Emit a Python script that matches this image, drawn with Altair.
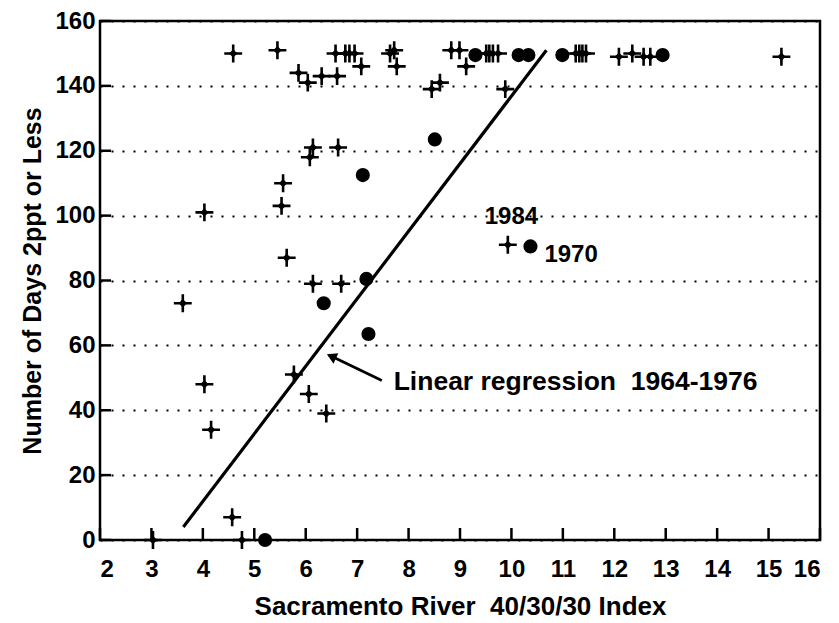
import altair as alt
import pandas as pd

# ---- data ----
cross_x = [3.03, 3.61, 4.03, 4.03, 4.16, 4.57, 4.59, 4.76, 5.45, 5.53, 5.56, 5.63, 5.77,
           5.86, 6.04, 6.06, 6.08, 6.14, 6.14, 6.31, 6.40, 6.58, 6.61, 6.63, 6.69, 6.77,
           6.85, 6.95, 7.08, 7.64, 7.72, 7.77, 8.45, 8.61, 8.83, 8.99, 9.12, 9.51, 9.57,
           9.64, 9.74, 9.88, 9.93, 11.25, 11.32, 11.38, 11.45, 12.09, 12.35, 12.57, 12.70,
           15.25]
cross_y = [0, 73, 101, 48, 34, 7, 150, 0, 151, 103, 110, 87, 51,
           144, 141, 45, 118, 121, 79, 143, 39, 150, 143, 121, 79, 150,
           150, 150, 146, 150, 151, 146, 139, 141, 151, 151, 146, 150, 150,
           150, 150, 139, 91, 150, 150, 150, 150, 149, 150, 149, 149,
           149]

dot_x = [5.21, 6.35, 7.18, 7.22, 7.11, 8.51, 9.30, 10.14, 10.33, 10.37, 10.99, 12.94]
dot_y = [0, 73, 80.5, 63.5, 112.5, 123.5, 149.5, 149.5, 149.5, 90.5, 149.5, 149.5]

reg_x = [3.62, 10.68]
reg_y = [4.0, 151.0]

arrow_x = [7.48, 6.45]
arrow_y = [49.2, 57.0]
arrow_head_x = [6.50]
arrow_head_y = [56.6]

label_text = ["1984", "1970"]
label_x = [10.0, 11.16]
label_y = [99.5, 88.0]

note_text = ["Linear regression\u00a0 1964-1976"]
note_x = [7.71]
note_y = [48.8]

x_ticks = list(range(2, 17))
y_ticks = list(range(0, 161, 20))

FONT = "Liberation Sans"

xs = alt.Scale(domain=[2, 16], nice=False, zero=False)
ys = alt.Scale(domain=[0, 160], nice=False, zero=False)

cross_df = pd.DataFrame({"x": cross_x, "y": cross_y})
dot_df = pd.DataFrame({"x": dot_x, "y": dot_y})
reg_df = pd.DataFrame({"x": reg_x, "y": reg_y})
arrow_df = pd.DataFrame({"x": arrow_x, "y": arrow_y})
head_df = pd.DataFrame({"x": arrow_head_x, "y": arrow_head_y})
label_df = pd.DataFrame({"t": label_text, "x": label_x, "y": label_y})
note_df = pd.DataFrame({"t": note_text, "x": note_x, "y": note_y})
xt_df = pd.DataFrame({"v": x_ticks})
yt_df = pd.DataFrame({"v": y_ticks})

x_axis = alt.Axis(values=x_ticks, title="Sacramento River\u00a0 40/30/30 Index",
                  grid=False, ticks=False, domain=False, labelPadding=17,
                  labelFontSize=24, titleFontSize=26, titleY=66, titleBaseline="middle")
y_axis = alt.Axis(values=y_ticks, title="Number of Days 2ppt or Less",
                  grid=True, gridDash=[2, 9], gridColor="black", gridWidth=2,
                  ticks=False, domain=False, labelPadding=5,
                  labelFontSize=24, titleFontSize=25, titleX=-68, titleBaseline="middle")

base_axes = alt.Chart(cross_df).mark_point(opacity=0).encode(
    x=alt.X("x:Q", scale=xs, axis=x_axis),
    y=alt.Y("y:Q", scale=ys, axis=y_axis),
)

ytick = alt.Chart(yt_df).mark_rule(color="black", strokeWidth=2.5).encode(
    y=alt.Y("v:Q", scale=ys), x=alt.value(0), x2=alt.value(11))
xtick = alt.Chart(xt_df).mark_rule(color="black", strokeWidth=2.5).encode(
    x=alt.X("v:Q", scale=xs), y=alt.value(519), y2=alt.value(507))

reg = alt.Chart(reg_df).mark_line(color="black", strokeWidth=3.2).encode(
    x=alt.X("x:Q", scale=xs), y=alt.Y("y:Q", scale=ys))

arrow = alt.Chart(arrow_df).mark_line(color="black", strokeWidth=2.8).encode(
    x=alt.X("x:Q", scale=xs), y=alt.Y("y:Q", scale=ys))
head = alt.Chart(head_df).mark_point(shape="triangle-up", filled=True, color="black",
                                     size=130, angle=295, opacity=1).encode(
    x=alt.X("x:Q", scale=xs), y=alt.Y("y:Q", scale=ys))

plus = alt.Chart(cross_df).mark_point(shape="M-1,0L1,0M0,-1L0,1", filled=False,
                                      color="black", size=320, strokeWidth=2.6,
                                      opacity=1).encode(
    x=alt.X("x:Q", scale=xs), y=alt.Y("y:Q", scale=ys))
center = alt.Chart(cross_df).mark_point(shape="diamond", filled=True, color="black",
                                        size=70, opacity=1).encode(
    x=alt.X("x:Q", scale=xs), y=alt.Y("y:Q", scale=ys))

dots = alt.Chart(dot_df).mark_circle(color="black", size=200, opacity=1).encode(
    x=alt.X("x:Q", scale=xs), y=alt.Y("y:Q", scale=ys))

labels = alt.Chart(label_df).mark_text(font=FONT, fontWeight="bold", fontSize=24,
                                       color="black", baseline="middle").encode(
    x=alt.X("x:Q", scale=xs), y=alt.Y("y:Q", scale=ys), text="t:N")

note = alt.Chart(note_df).mark_text(font=FONT, fontWeight="bold", fontSize=26.5,
                                    color="black", align="left", baseline="middle").encode(
    x=alt.X("x:Q", scale=xs), y=alt.Y("y:Q", scale=ys), text="t:N")

chart = alt.layer(base_axes, ytick, xtick, reg, arrow, head, plus, center, dots,
                  labels, note).properties(
    width=720, height=519,
    padding={"left": 92, "top": 13, "right": 11, "bottom": 83},
    autosize=alt.AutoSizeParams(type="none"),
    background="white",
).configure_view(
    stroke="black", strokeWidth=2.5
).configure_axis(
    labelFont=FONT, titleFont=FONT, labelFontWeight="bold", titleFontWeight="bold",
    labelColor="black", titleColor="black"
)

chart.save("out.html", embed_options={"renderer": "svg", "actions": False})
